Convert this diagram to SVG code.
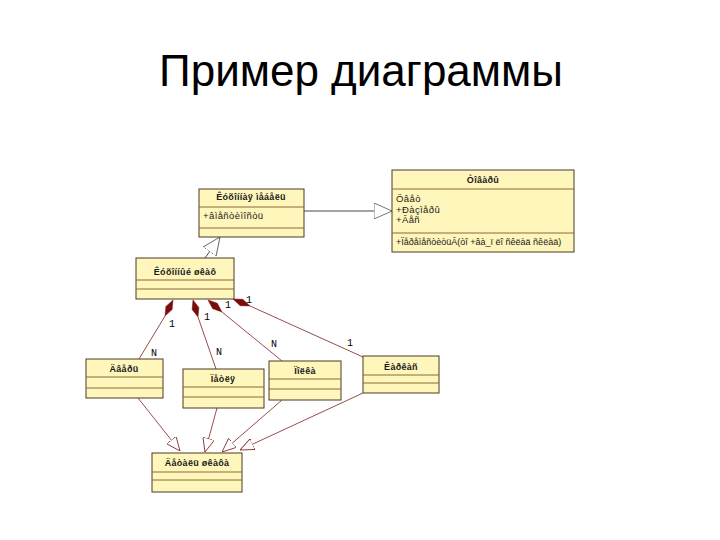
<svg xmlns="http://www.w3.org/2000/svg" width="720" height="540" viewBox="0 0 720 540">
<style>
.box{fill:#fff6bc;stroke:#4a3a22;stroke-width:1}
.sep{stroke:#8a6a30;stroke-width:1}
.nm{font-family:"Liberation Sans",Arial,sans-serif;font-size:9px;font-weight:bold;fill:#1a1a1a;text-anchor:middle;letter-spacing:0.3px}
.at{font-family:"Liberation Sans",Arial,sans-serif;font-size:9.5px;fill:#1a1a1a;letter-spacing:0.4px}
.mt{font-family:"Liberation Sans",Arial,sans-serif;font-size:9px;fill:#1a1a1a}
.lbl{font-family:"Liberation Mono","DejaVu Sans Mono",monospace;font-size:10px;fill:#000}
.ln{stroke:#8b3a3a;stroke-width:0.9;fill:none}
.gl{stroke:#333;stroke-width:0.9;fill:none}
.dia{fill:#7a0c0c;stroke:#7a0c0c;stroke-width:0.5}
</style>
<defs>
<marker id="tri" viewBox="0 0 14 12" refX="14" refY="6" markerWidth="14" markerHeight="12" markerUnits="userSpaceOnUse" orient="auto">
<path d="M0,0 L14,6 L0,12 Z" fill="#fff" stroke="#8b3a3a" stroke-width="0.9"/>
</marker>
<marker id="triG" viewBox="0 0 18 16" refX="18" refY="8" markerWidth="18" markerHeight="16" markerUnits="userSpaceOnUse" orient="auto">
<path d="M0,0 L18,8 L0,16 Z" fill="#fff" stroke="#666" stroke-width="0.9"/>
</marker>
</defs>
<rect width="720" height="540" fill="#fff"/>
<text x="361" y="86" font-family="Liberation Sans, Arial, sans-serif" font-size="44" text-anchor="middle" fill="#000">Пример диаграммы</text>

<g id="connectors">
<line class="gl" x1="304" y1="211" x2="392" y2="211" marker-end="url(#triG)"/>
<line class="gl" x1="205" y1="258" x2="220" y2="237" marker-end="url(#triG)"/>
<line class="ln" x1="165" y1="316" x2="139" y2="359"/>
<line class="ln" x1="198" y1="317" x2="216" y2="369"/>
<line class="ln" x1="222" y1="312" x2="282" y2="361"/>
<line class="ln" x1="250" y1="306" x2="363" y2="357"/>
<polygon class="dia" points="173,300 172.1,309.6 165,316 165.9,306.4"/>
<polygon class="dia" points="193,300 198.9,307.5 198,317 192.1,309.5"/>
<polygon class="dia" points="208,300 217.3,303.3 222,312 212.7,308.7"/>
<polygon class="dia" points="233,299 242.8,299.3 250,306 240.2,305.7"/>
<line class="ln" x1="138" y1="398" x2="180" y2="451" marker-end="url(#tri)"/>
<line class="ln" x1="217" y1="408" x2="205" y2="452" marker-end="url(#tri)"/>
<line class="ln" x1="282" y1="400" x2="222" y2="452" marker-end="url(#tri)"/>
<line class="ln" x1="363" y1="393" x2="240" y2="450" marker-end="url(#tri)"/>
<text class="lbl" x="169" y="327">1</text>
<text class="lbl" x="204" y="320">1</text>
<text class="lbl" x="225" y="308">1</text>
<text class="lbl" x="246" y="303">1</text>
<text class="lbl" x="151" y="356">N</text>
<text class="lbl" x="216" y="355">N</text>
<text class="lbl" x="271" y="347">N</text>
<text class="lbl" x="347" y="346">1</text>
</g>

<g id="tovary">
<rect class="box" x="392" y="170" width="182" height="82"/>
<line class="sep" x1="392" y1="189" x2="574" y2="189"/>
<line class="sep" x1="392" y1="233" x2="574" y2="233"/>
<text class="nm" x="483" y="183">Òîâàðû</text>
<text class="at" x="396" y="202">Öâåò</text>
<text class="at" x="396" y="213">+Ðàçìåðû</text>
<text class="at" x="396" y="223">+Âåñ</text>
<text class="mt" x="396" y="245">+ÏåðåìåñòèòüÂ(òî +âà_ï ëî ñêëàä ñêëàä)</text>
</g>

<g id="mebel">
<rect class="box" x="199" y="189" width="105" height="48"/>
<line class="sep" x1="199" y1="207" x2="304" y2="207"/>
<line class="sep" x1="199" y1="228" x2="304" y2="228"/>
<text class="nm" x="251" y="200">Êóõîííàÿ ìåáåëü</text>
<text class="at" x="203" y="219">+âìåñòèìîñòü</text>
</g>

<g id="shkaf">
<rect class="box" x="136" y="258" width="98" height="41"/>
<line class="sep" x1="136" y1="280" x2="234" y2="280"/>
<line class="sep" x1="136" y1="289" x2="234" y2="289"/>
<text class="nm" x="185" y="275">Êóõîííûé øêàô</text>
</g>

<g id="dver">
<rect class="box" x="86" y="359" width="77" height="39"/>
<line class="sep" x1="86" y1="377" x2="163" y2="377"/>
<line class="sep" x1="86" y1="388" x2="163" y2="388"/>
<text class="nm" x="124" y="372">Äâåðü</text>
</g>

<g id="petlya">
<rect class="box" x="183" y="369" width="81" height="39"/>
<line class="sep" x1="183" y1="387" x2="264" y2="387"/>
<line class="sep" x1="183" y1="397" x2="264" y2="397"/>
<text class="nm" x="223" y="382">Ïåòëÿ</text>
</g>

<g id="polka">
<rect class="box" x="269" y="361" width="72" height="39"/>
<line class="sep" x1="269" y1="379" x2="341" y2="379"/>
<line class="sep" x1="269" y1="389" x2="341" y2="389"/>
<text class="nm" x="305" y="374">Ïîëêà</text>
</g>

<g id="karkas">
<rect class="box" x="363" y="356" width="76" height="37"/>
<line class="sep" x1="363" y1="375" x2="439" y2="375"/>
<line class="sep" x1="363" y1="383" x2="439" y2="383"/>
<text class="nm" x="401" y="370">Êàðêàñ</text>
</g>

<g id="detal">
<rect class="box" x="152" y="453" width="90" height="39"/>
<line class="sep" x1="152" y1="472" x2="242" y2="472"/>
<line class="sep" x1="152" y1="480" x2="242" y2="480"/>
<text class="nm" x="197" y="466">Äåòàëü øêàôà</text>
</g>
</svg>
